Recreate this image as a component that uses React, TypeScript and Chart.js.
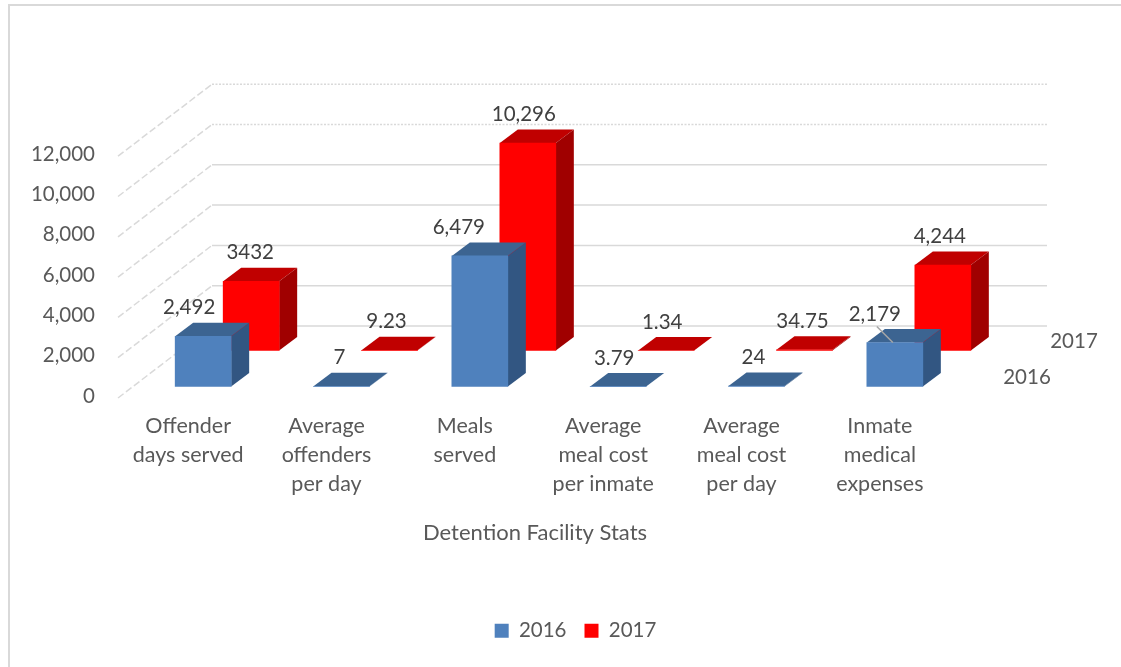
import React, { useEffect, useRef } from "react";
import { Chart, registerables } from "chart.js";

Chart.register(...registerables);

const categories = [
  ["Offender", "days served"],
  ["Average", "offenders", "per day"],
  ["Meals", "served"],
  ["Average", "meal cost", "per inmate"],
  ["Average", "meal cost", "per day"],
  ["Inmate", "medical", "expenses"],
];
const seriesNames = ["2016", "2017"];
const values2016 = [2492, 7, 6479, 3.79, 24, 2179];
const values2017 = [3432, 9.23, 10296, 1.34, 34.75, 4244];
const labels2016 = ["2,492", "7", "6,479", "3.79", "24", "2,179"];
const labels2017 = ["3432", "9.23", "10,296", "1.34", "34.75", "4,244"];
const axisTitle = "Detention Facility Stats";

const FONT = "Lato, Carlito, sans-serif";
const TEXT = "#595959";
const LABEL = "#404040";
const GRID = "#d9d9d9";
const DEPTH = { dx: 18, dy: -13.5 };
const SERIES_SHIFT = [{ x: 0, y: 0 }, { x: 48, y: -36 }];
const FACE = [
  { top: "#3c6491", side: "#325682" },
  { top: "#c00000", side: "#a00000" },
];
const LABEL_SHIFT = [
  [-14, -2, -21, -4, -3, -20],
  [-1, -3, -4, -4, -2, -3],
];

const threeD = {
  id: "threeD",
  beforeDatasetsDraw(chart: any) {
    const { ctx, chartArea } = chart;
    const y = chart.scales.y;
    const backDx = 78;
    const backRight = 1047;
    ctx.save();
    ctx.strokeStyle = GRID;
    ctx.lineWidth = 1.5;
    y.ticks.forEach((t: any) => {
      const p = y.getPixelForValue(t.value);
      ctx.setLineDash(t.value >= 10000 ? [2, 1.5] : []);
      ctx.beginPath();
      ctx.moveTo(chartArea.left + backDx, p - 60.5);
      ctx.lineTo(backRight, p - 60.5);
      ctx.stroke();
      ctx.setLineDash([7, 3]);
      ctx.beginPath();
      ctx.moveTo(chartArea.left - 16, p + 11.5);
      ctx.lineTo(chartArea.left + backDx, p - 60.5);
      ctx.stroke();
    });
    ctx.restore();
  },
  beforeDatasetDraw(chart: any, args: any) {
    const { ctx } = chart;
    const s = SERIES_SHIFT[args.index];
    const f = FACE[args.index];
    ctx.save();
    ctx.translate(s.x, s.y);
    args.meta.data.forEach((el: any) => {
      const { x, y, base, width } = el.getProps(["x", "y", "base", "width"], true);
      const l = x - width / 2;
      const r = x + width / 2;
      ctx.fillStyle = f.top;
      ctx.beginPath();
      ctx.moveTo(l, y);
      ctx.lineTo(r, y);
      ctx.lineTo(r + DEPTH.dx, y + DEPTH.dy);
      ctx.lineTo(l + DEPTH.dx, y + DEPTH.dy);
      ctx.closePath();
      ctx.fill();
      ctx.fillStyle = f.side;
      ctx.beginPath();
      ctx.moveTo(r, y);
      ctx.lineTo(r + DEPTH.dx, y + DEPTH.dy);
      ctx.lineTo(r + DEPTH.dx, base + DEPTH.dy);
      ctx.lineTo(r, base);
      ctx.closePath();
      ctx.fill();
    });
  },
  afterDatasetDraw(chart: any) {
    chart.ctx.restore();
  },
  afterDatasetsDraw(chart: any) {
    const { ctx } = chart;
    ctx.save();
    ctx.textAlign = "center";
    ctx.textBaseline = "middle";
    ctx.font = `20.5px ${FONT}`;
    [labels2016, labels2017].forEach((labels, ds) => {
      const s = SERIES_SHIFT[ds];
      chart.getDatasetMeta(ds).data.forEach((el: any, i: number) => {
        const { x, y } = el.getProps(["x", "y"], true);
        const px = x + s.x;
        const py = y + s.y;
        if (ds === 0 && i === 5) {
          ctx.strokeStyle = "#a6a6a6";
          ctx.lineWidth = 1.5;
          ctx.beginPath();
          ctx.moveTo(px - 18, py - 16);
          ctx.lineTo(px - 2, py);
          ctx.stroke();
        }
        ctx.fillStyle = LABEL;
        ctx.fillText(labels[i], px + LABEL_SHIFT[ds][i], py - 28.5);
      });
    });
    ctx.fillStyle = TEXT;
    ctx.fillText(seriesNames[1], 1074, 341);
    ctx.fillText(seriesNames[0], 1027, 377);
    ctx.font = `22px ${FONT}`;
    ctx.fillText(axisTitle, 535, 533);
    ctx.restore();
  },
};

export default function App() {
  const ref = useRef<HTMLCanvasElement>(null);
  useEffect(() => {
    const chart = new Chart(ref.current!, {
      type: "bar",
      data: {
        labels: categories,
        datasets: [
          { label: seriesNames[0], data: values2016, backgroundColor: "#4f81bd", clip: false as any },
          { label: seriesNames[1], data: values2017, backgroundColor: "#ff0000", clip: false as any },
        ],
      },
      options: {
        animation: false,
        responsive: false,
        grouped: false,
        barThickness: 56,
        layout: { padding: { left: 30, top: 144.7, right: 0, bottom: 16 } },
        scales: {
          x: {
            grid: { display: false, drawTicks: false },
            border: { display: false },
            afterFit: (s: any) => { s.height = 216; },
            ticks: {
              autoSkip: false,
              maxRotation: 0,
              minRotation: 0,
              padding: 25,
              labelOffset: -15,
              color: TEXT,
              font: { family: FONT, size: 21.5, lineHeight: 1.35 },
            },
          },
          y: {
            min: 0,
            max: 12000,
            grid: { display: false, drawTicks: false },
            border: { display: false },
            afterFit: (s: any) => { s.width = 104; },
            ticks: {
              stepSize: 2000,
              padding: 39,
              labelOffset: 9.5,
              color: TEXT,
              font: { family: FONT, size: 20.5 },
              callback: (v: any) => Number(v).toLocaleString("en-US"),
            },
          },
          // Empty right-hand axis: keeps the room for the depth labels without moving the legend.
          depthRoom: {
            type: "linear",
            position: "right",
            grid: { display: false, drawTicks: false },
            border: { display: false },
            ticks: { display: false },
            afterFit: (s: any) => { s.width = 157; },
          },
        },
        plugins: {
          legend: {
            position: "bottom",
            labels: {
              boxWidth: 14,
              boxHeight: 14,
              color: TEXT,
              font: { family: FONT, size: 20.5 },
              padding: 18,
            },
          },
          tooltip: { enabled: false },
        },
      } as any,
      plugins: [threeD],
    });
    return () => chart.destroy();
  }, []);
  return (
    <div style={{ position: "absolute", left: 0, top: 0, width: 1121, height: 667, background: "#fff", overflow: "hidden" }}>
      <canvas ref={ref} width={1121} height={667} style={{ display: "block" }} />
      <div style={{ position: "absolute", left: 8, top: 4, right: 0, bottom: 0, borderLeft: "2px solid #d9d9d9", borderTop: "2px solid #d9d9d9", pointerEvents: "none" }} />
    </div>
  );
}
